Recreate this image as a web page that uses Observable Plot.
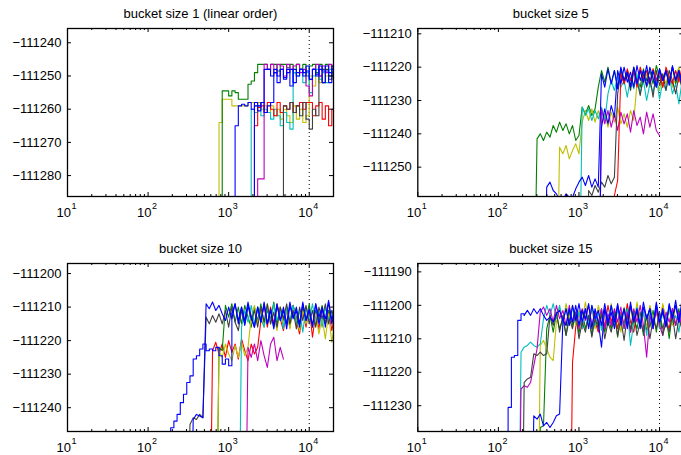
<!DOCTYPE html>
<html><head><meta charset="utf-8">
<script src="https://cdn.jsdelivr.net/npm/d3@7"></script>
<script src="https://cdn.jsdelivr.net/npm/@observablehq/plot@0.6"></script>
<style>
body{margin:0;background:#fff;}
#fig{position:relative;width:681px;height:455px;overflow:hidden;background:#fff;}
#fig svg{position:absolute;}
</style></head><body><div id="fig"></div>
<script>
// shared iteration grid (log-spaced)
const grid = [100,110,120,132,145,158,174,191,209,229,251,275,302,331,363,398,437,479,525,575,631,692,759,832,912,1000,1096,1202,1318,1445,1585,1738,1905,2089,2291,2512,2754,3020,3311,3631,3981,4365,4786,5248,5754,6310,6918,7586,8318,9120,10000,10965,12023,13183,14454,15849,17378,19055,20893];
const xTickValues = [10, 100, 1000, 10000];
const xTickBase = ["10", "10", "10", "10"];
const xTickExp = ["1", "2", "3", "4"];
const xMinorTicks = [20,30,40,50,60,70,80,90,200,300,400,500,600,700,800,900,2000,3000,4000,5000,6000,7000,8000,9000];
const markerX = [10000];
const colors = {b:"#0000ff", g:"#008000", r:"#ff0000", c:"#00bfbf", m:"#bf00bf", y:"#bfbf00", k:"#404040"};

const titles = ["bucket size 1 (linear order)", "bucket size 5", "bucket size 10", "bucket size 15"];
const yTicks1 = [-111240, -111250, -111260, -111270, -111280];
const yTicks5 = [-111210, -111220, -111230, -111240, -111250];
const yTicks10 = [-111200, -111210, -111220, -111230, -111240];
const yTicks15 = [-111190, -111200, -111210, -111220, -111230];

// ---- bucket size 1 ----
const b1_yellow = {c:"y", from:21, y:[-111300,-111264,-111257,-111257,-111257,-111259,-111259,-111259,-111259,-111259,-111258,-111258,-111259,-111258,-111260,-111259,-111261,-111259,-111262,-111260,-111263,-111260,-111262,-111264,-111259,-111263,-111260,-111264,-111262,-111250,-111253,-111249,-111252,-111248,-111250,-111247,-111251,-111249]};
const b1_green = {c:"g", from:22, y:[-111300,-111254.5,-111254.5,-111256,-111254.5,-111255,-111257,-111257,-111257,-111252.5,-111251.5,-111249,-111246.5,-111246.5,-111246.5,-111248,-111246.5,-111246.5,-111248.5,-111246.5,-111246.5,-111247.5,-111246.5,-111249,-111246.5,-111248,-111246.5,-111250,-111247,-111246.5,-111249,-111246.5,-111248,-111246.5,-111250,-111247,-111248]};
const b1_cyan = {c:"c", from:31, y:[-111300,-111260,-111261,-111259,-111262,-111260,-111261,-111263,-111260,-111262,-111265,-111261,-111264,-111266,-111249,-111250,-111248,-111252,-111249,-111255,-111250,-111248,-111251,-111249,-111252,-111248,-111250,-111249]};
const b1_red = {c:"r", from:32, y:[-111300,-111265,-111259.5,-111259,-111261,-111258,-111260,-111262,-111258,-111261,-111259,-111260,-111258,-111261,-111259,-111258,-111260,-111258,-111258,-111262,-111259,-111258,-111263,-111259,-111265,-111260,-111254]};
const b1_gray = {c:"k", from:41, y:[-111300,-111259,-111260,-111258,-111261,-111259,-111262,-111258,-111263,-111266,-111260,-111262,-111250,-111252,-111248,-111251,-111249,-111253]};
const b1_magenta = {c:"m", from:33, y:[-111300,-111281,-111281,-111246.5,-111248,-111246.5,-111249,-111246.5,-111247,-111250,-111246.5,-111248,-111247,-111246.5,-111249,-111248,-111253,-111256,-111248,-111246.5,-111250,-111247,-111249,-111246.5,-111248,-111247]};
const b1_blueA = {c:"b", from:26, y:[-111300,-111265,-111259,-111258.5,-111259,-111258,-111260,-111258,-111259,-111258,-111248,-111248,-111250,-111248,-111252,-111248,-111250.5,-111248,-111253,-111248,-111250,-111248,-111249,-111247,-111251,-111248,-111250,-111247,-111248.5,-111247,-111252,-111247,-111248]};
const b1_blueB = {c:"b", from:32, y:[-111300,-111259,-111260.5,-111258,-111261,-111259,-111258,-111249,-111250,-111248,-111251,-111249,-111248,-111252,-111249,-111248,-111250,-111248.5,-111251,-111248,-111249.5,-111248,-111252,-111248.5,-111249,-111248,-111250]};

// ---- bucket size 5 ----
const b5_green = {c:"g", from:11, y:[-111300,-111241.5,-111240,-111242,-111239.5,-111241,-111237.5,-111239.5,-111236.5,-111239,-111237,-111240,-111237.5,-111242,-111240.5,-111232,-111234,-111231.5,-111234.5,-111232.5,-111226,-111221,-111224.5,-111220,-111225,-111221,-111226,-111220.5,-111224,-111221,-111225.5,-111220,-111223.5,-111226,-111220.5,-111224,-111221,-111225,-111219.5,-111223,-111226,-111221,-111224.5,-111220,-111225,-111222,-111226.5,-111221]};
const b5_yellow = {c:"y", from:18, y:[-111300,-111244,-111246,-111243.5,-111247.5,-111245,-111243,-111246,-111236.5,-111233,-111236,-111232.5,-111236.5,-111233,-111237,-111234,-111238,-111233.5,-111236.5,-111232,-111237,-111234,-111238,-111233,-111236,-111225,-111221,-111225,-111222,-111226,-111220.5,-111224,-111227,-111222,-111225,-111221,-111226,-111223,-111220,-111225,-111222]};
const b5_cyan = {c:"c", from:25, y:[-111300,-111232,-111234.5,-111232.5,-111236,-111233,-111235.5,-111232,-111236,-111228,-111224,-111227,-111222.5,-111226,-111224,-111229,-111223,-111226.5,-111222,-111228,-111224,-111230,-111225,-111227.5,-111223,-111229.5,-111224.5,-111227,-111222.5,-111228,-111225,-111231,-111224,-111228]};
const b5_magenta = {c:"m", from:31, y:[-111300,-111232.5,-111237,-111233,-111238,-111234,-111239,-111233.5,-111237,-111234,-111239.5,-111233,-111237.5,-111235,-111240,-111233.5,-111238,-111234,-111239,-111240.5]};
const b5_gray = {c:"k", from:27, y:[-111300,-111257,-111258.5,-111255.5,-111257.5,-111254.5,-111256,-111252.5,-111255,-111253,-111228,-111221,-111225,-111222,-111227,-111221.5,-111224,-111228.5,-111222,-111226,-111223,-111229,-111221,-111225.5,-111222,-111227,-111221,-111224,-111228,-111222.5,-111226,-111230]};
const b5_red = {c:"r", from:35, y:[-111300,-111258.5,-111254,-111222,-111225,-111220.5,-111224,-111221,-111226,-111220,-111223.5,-111221,-111225,-111220.5,-111224,-111221.5,-111226,-111220,-111223,-111225,-111221,-111224.5,-111220,-111223]};
const b5_blueA = {c:"b", from:14, y:[-111300,-111256,-111254.5,-111257,-111258,-111260,-111260,-111258,-111259,-111259,-111256.5,-111254.5,-111253,-111255.5,-111252.5,-111256,-111253.5,-111256,-111222,-111226,-111220.5,-111225,-111221,-111226.5,-111220,-111224,-111221.5,-111226,-111220,-111225,-111221,-111224.5,-111219.5,-111225,-111221,-111226,-111220.5,-111224,-111221,-111225.5,-111220,-111224,-111221,-111226,-111220.5]};
const b5_blueB = {c:"b", from:31, y:[-111300,-111238,-111232.5,-111237,-111231.5,-111235,-111221,-111225,-111220,-111224.5,-111221.5,-111226,-111219.5,-111224,-111221,-111225.5,-111220,-111223.5,-111226,-111220.5,-111224,-111221,-111225,-111219.5,-111224,-111221,-111225,-111220]};

// ---- bucket size 10 ----
const b10_red = {c:"r", from:19, y:[-111300,-111223,-111220.5,-111224,-111221,-111225,-111220,-111223.5,-111221,-111225.5,-111219.5,-111223,-111226,-111221,-111224,-111222,-111214,-111209.5,-111216,-111210,-111215,-111209,-111213.5,-111217,-111210.5,-111215,-111209.5,-111214,-111218,-111211,-111216,-111210,-111219,-111212,-111216.5,-111210,-111215,-111211,-111217,-111212]};
const b10_green = {c:"g", from:21, y:[-111300,-111222,-111223,-111209.5,-111213,-111209,-111214.5,-111210,-111215,-111209.5,-111213,-111216,-111210,-111214,-111209,-111215,-111211,-111213.5,-111208.5,-111215,-111210,-111214,-111211,-111216,-111209.5,-111213,-111215.5,-111210,-111214,-111209,-111216,-111211,-111214,-111209.5,-111215,-111211,-111213.5,-111210]};
const b10_yellow = {c:"y", from:21, y:[-111300,-111223,-111225,-111221,-111224,-111226,-111221.5,-111225,-111220.5,-111224.5,-111222,-111213,-111209.5,-111215,-111211,-111216,-111209,-111214,-111212,-111217,-111210,-111215,-111211,-111216.5,-111210,-111214,-111217,-111211,-111215,-111210.5,-111216,-111212,-111218,-111213,-111219.5,-111212,-111220.5,-111214]};
const b10_cyan = {c:"c", from:28, y:[-111300,-111216,-111211,-111214.5,-111209.5,-111215,-111210,-111213.5,-111216,-111210,-111215,-111209,-111214,-111211,-111216.5,-111210,-111214,-111209.5,-111215,-111211,-111217.5,-111210,-111214,-111209,-111215.5,-111211,-111216,-111210,-111214,-111211,-111215]};
const b10_magenta = {c:"m", from:30, y:[-111300,-111222,-111225,-111221,-111226,-111220,-111224.5,-111228,-111221,-111219,-111226,-111222,-111225.5]};
const b10_gray = {c:"k", from:12, y:[-111300,-111245,-111243,-111243.5,-111242,-111243,-111213,-111215,-111212.5,-111214.5,-111212,-111215,-111211,-111216,-111210,-111214.5,-111217,-111211,-111215,-111209.5,-111214,-111211,-111216,-111210,-111214.5,-111209,-111215,-111211.5,-111216,-111210,-111213.5,-111209,-111215,-111211,-111216.5,-111210,-111214,-111209.5,-111215,-111211,-111216,-111210,-111213.5,-111209,-111215,-111211,-111214]};
const b10_blueA = {c:"b", from:6, stairs:20, y:[-111300,-111246,-111244,-111242,-111238.5,-111236,-111232.5,-111230.5,-111225.5,-111224.5,-111222.5,-111221,-111223,-111222.5,-111223,-111222,-111224.5,-111227,-111225.5,-111227.5,-111212,-111209,-111214,-111210,-111215.5,-111209.5,-111213,-111216,-111210,-111214.5,-111208.5,-111215,-111210.5,-111216,-111209,-111214,-111211,-111216.5,-111209.5,-111213.5,-111210,-111215,-111208.5,-111214,-111211,-111216,-111209,-111215,-111210.5,-111213.5,-111208,-111215,-111211]};
const b10_blueB = {c:"b", from:13, y:[-111300,-111243.5,-111242,-111242.5,-111243,-111209,-111210.5,-111208.5,-111211,-111209.5,-111212,-111214,-111210,-111213.5,-111209,-111215,-111210,-111214,-111208.5,-111213,-111216,-111210,-111214.5,-111209,-111215,-111211,-111216.5,-111209.5,-111214,-111210,-111215,-111208.5,-111213,-111211,-111216,-111209,-111214,-111210.5,-111215.5,-111209,-111213,-111210,-111216,-111208.5,-111214,-111210]};

// ---- bucket size 15 ----
const b15_red = {c:"r", from:22, y:[-111300,-111217,-111206.5,-111202,-111207,-111201,-111206,-111200.5,-111205,-111208,-111202,-111206.5,-111200,-111205,-111201.5,-111207,-111202,-111206,-111199.5,-111205,-111208,-111201,-111206,-111202,-111207.5,-111200.5,-111205,-111202,-111206,-111200,-111204.5,-111207,-111201,-111206,-111202,-111205,-111200]};
const b15_green = {c:"g", from:12, y:[-111300,-111236.5,-111236,-111207,-111203,-111208,-111202.5,-111207,-111204,-111209,-111202,-111206,-111203,-111208.5,-111201.5,-111207,-111203,-111209,-111202,-111206.5,-111201,-111208,-111203,-111207,-111202,-111209.5,-111203,-111206,-111201,-111208,-111203.5,-111207,-111202,-111209,-111203,-111206.5,-111201.5,-111208,-111202,-111207,-111203,-111210,-111202,-111206,-111201,-111208,-111203]};
const b15_yellow = {c:"y", from:12, y:[-111300,-111212,-111210.5,-111213,-111215.5,-111216.5,-111205,-111201,-111205,-111199.5,-111204,-111200,-111206,-111201.5,-111204.5,-111199,-111205,-111201,-111207,-111200,-111204,-111202,-111206,-111199.5,-111205,-111201,-111208,-111200.5,-111204,-111201,-111206,-111199,-111205,-111202,-111206.5,-111200,-111204,-111201.5,-111207,-111199.5,-111205,-111201,-111206,-111200,-111204.5,-111201,-111205]};
const b15_cyan = {c:"c", from:6, y:[-111300,-111214,-111212.5,-111212,-111211,-111212,-111212.5,-111211.5,-111204,-111200,-111203,-111199.5,-111204,-111200,-111205,-111201,-111206,-111200.5,-111205,-111202,-111207,-111201,-111205.5,-111200,-111206,-111202,-111207.5,-111201,-111205,-111200,-111206,-111201.5,-111203,-111207,-111201,-111212,-111205,-111200.5,-111206,-111202,-111209,-111201,-111205,-111200,-111207,-111202,-111206,-111201,-111205,-111203,-111208,-111201,-111206]};
const b15_magenta = {c:"m", from:6, y:[-111300,-111225,-111224,-111224.5,-111223,-111218,-111213,-111202,-111200.5,-111203,-111201,-111205,-111200,-111204,-111201.5,-111206,-111200,-111205,-111202,-111207,-111201,-111204.5,-111200,-111206,-111202,-111205,-111201,-111207,-111202.5,-111206,-111201,-111205,-111200.5,-111207,-111202,-111208,-111201,-111205,-111200,-111206,-111215.5,-111203,-111207,-111201,-111206,-111209,-111202,-111205,-111201,-111206,-111202,-111207,-111203]};
const b15_gray = {c:"k", from:7, y:[-111300,-111223,-111222,-111221.5,-111214.5,-111215,-111214,-111215,-111214.5,-111203,-111206,-111202,-111208,-111203,-111209,-111204,-111207,-111202,-111210,-111205,-111208,-111203,-111209.5,-111204,-111207,-111202.5,-111210,-111205,-111208,-111203,-111209,-111204,-111210.5,-111203,-111207,-111202,-111209,-111205,-111208,-111203,-111210,-111204,-111207,-111202,-111209,-111205,-111208,-111203,-111210,-111204,-111207,-111205]};
const b15_blueB = {c:"b", from:10, y:[-111300,-111233,-111234,-111232.5,-111236,-111235,-111236.5,-111235,-111233,-111232.5,-111205,-111201,-111206,-111200,-111204.5,-111199.5,-111205,-111201,-111207,-111200,-111204,-111201.5,-111206,-111199.5,-111205,-111202,-111207,-111200,-111204.5,-111201,-111206,-111199,-111205,-111201,-111207,-111200.5,-111204,-111201,-111206,-111199,-111205,-111202,-111206.5,-111200,-111204,-111198.5,-111205,-111200,-111204]};
const b15_blueA = {c:"b", from:2, stairs:6, y:[-111300,-111230.5,-111215.5,-111215,-111204.5,-111202.5,-111203,-111201.5,-111203,-111201,-111202.5,-111201,-111203,-111204.5,-111203.5,-111205,-111202.5,-111201.5,-111204.5,-111206,-111201,-111205,-111200,-111206,-111201.5,-111204,-111199.5,-111207,-111201,-111205,-111212.5,-111201,-111206,-111200,-111205,-111199.5,-111206,-111201,-111207,-111200,-111205,-111201.5,-111206,-111199,-111204,-111201,-111207,-111200,-111205,-111201,-111206,-111199.5,-111204,-111200,-111205,-111198,-111203]};

const panels = [
  {title: titles[0], left: 0, top: 0, width: 340, height: 228, ml: 67, mr: 7, mt: 28, mb: 32, stepped: true,
   ydomain: [-111286.3, -111235.7], yticks: yTicks1,
   series: [b1_yellow, b1_green, b1_cyan, b1_red, b1_gray, b1_magenta, b1_blueA, b1_blueB]},
  {title: titles[1], left: 340, top: 0, width: 350, height: 228, ml: 77.3, mr: 6.7, mt: 28, mb: 32, stepped: false,
   ydomain: [-111258.8, -111208.4], yticks: yTicks5,
   series: [b5_green, b5_yellow, b5_cyan, b5_magenta, b5_gray, b5_red, b5_blueA, b5_blueB]},
  {title: titles[2], left: 0, top: 228, width: 340, height: 227, ml: 67, mr: 7, mt: 35, mb: 24, stepped: false,
   ydomain: [-111247.1, -111197.0], yticks: yTicks10,
   series: [b10_red, b10_green, b10_yellow, b10_cyan, b10_magenta, b10_gray, b10_blueA, b10_blueB]},
  {title: titles[3], left: 340, top: 228, width: 350, height: 227, ml: 77.3, mr: 6.7, mt: 35, mb: 24, stepped: false,
   ydomain: [-111237.7, -111187.5], yticks: yTicks15,
   series: [b15_red, b15_green, b15_yellow, b15_cyan, b15_magenta, b15_gray, b15_blueB, b15_blueA]}
];

const fmtY = d => "\u2212" + Math.abs(d);
const font = "'Liberation Sans', Arial, Helvetica, sans-serif";

function points(s, a, b) {
  return s.y.slice(a, b).map((v, i) => ({x: grid[s.from + a + i], y: v})).filter(d => d.x !== undefined);
}

function seriesMarks(s, stepped) {
  const opts = {x: "x", y: "y", stroke: colors[s.c], strokeWidth: 1.1, clip: true};
  if (stepped) return [Plot.line(points(s, 0), {...opts, curve: "step-after"})];
  const k = s.stairs || 0;
  const out = [];
  if (k > 0) out.push(Plot.line(points(s, 0, k + 1), {...opts, curve: "step-after"}));
  out.push(Plot.line(points(s, k), {...opts, curve: "linear"}));
  return out;
}

const fig = document.getElementById("fig");
for (const p of panels) {
  const fw = p.width - p.ml - p.mr;
  const fh = p.height - p.mt - p.mb;
  const marks = [
    Plot.ruleX(markerX, {x: d => d, stroke: "black", strokeWidth: 1, strokeDasharray: "1,3"}),
    ...p.series.flatMap(s => seriesMarks(s, p.stepped)),
    Plot.frame({stroke: "black", strokeWidth: 1.3}),
    Plot.tickX(xTickValues, {x: d => d, insetTop: fh - 4, stroke: "black"}),
    Plot.tickX(xTickValues, {x: d => d, insetBottom: fh - 4, stroke: "black"}),
    Plot.tickX(xMinorTicks, {x: d => d, insetTop: fh - 2, stroke: "black"}),
    Plot.tickX(xMinorTicks, {x: d => d, insetBottom: fh - 2, stroke: "black"}),
    Plot.tickY(p.yticks, {y: d => d, insetRight: fw - 4, stroke: "black"}),
    Plot.tickY(p.yticks, {y: d => d, insetLeft: fw - 4, stroke: "black"}),
    Plot.text(xTickValues, {x: d => d, text: (d, i) => xTickBase[i], frameAnchor: "bottom", dy: 16.5, dx: 3.5, textAnchor: "end", lineAnchor: "middle", fill: "black", fontSize: 13}),
    Plot.text(xTickValues, {x: d => d, text: (d, i) => xTickExp[i], frameAnchor: "bottom", dy: 9.5, dx: 4, textAnchor: "start", lineAnchor: "middle", fill: "black", fontSize: 9}),
    Plot.text(p.yticks, {y: d => d, text: d => fmtY(d), frameAnchor: "left", textAnchor: "end", dx: -6, fill: "black", fontSize: 13}),
    Plot.text([p.title], {frameAnchor: "top", dy: -15, lineAnchor: "middle", fill: "black", fontSize: 13})
  ];
  const svg = Plot.plot({
    width: p.width, height: p.height,
    marginLeft: p.ml, marginRight: p.mr, marginTop: p.mt, marginBottom: p.mb,
    x: {type: "log", domain: [10, 20000], axis: null},
    y: {domain: p.ydomain, axis: null},
    style: {fontFamily: font, fontSize: "13px", color: "black", background: "transparent"},
    marks
  });
  svg.style.left = p.left + "px";
  svg.style.top = p.top + "px";
  fig.appendChild(svg);
}
</script>
</body></html>
